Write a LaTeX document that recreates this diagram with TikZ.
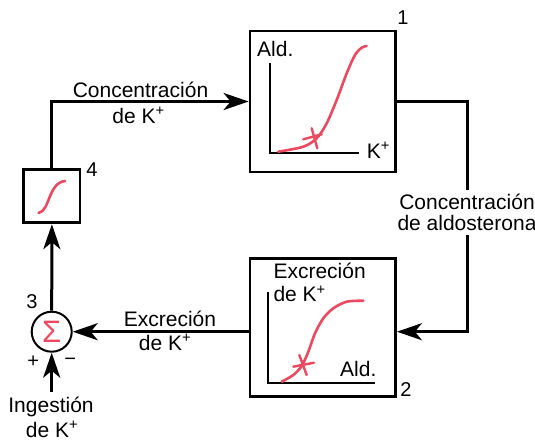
\documentclass[tikz,border=0pt]{standalone}
\usepackage{fontspec}
\setmainfont{Liberation Sans}
\usetikzlibrary{arrows.meta}
\definecolor{cred}{RGB}{236,72,95}
\begin{document}
\begin{tikzpicture}[x=1pt,y=-1pt,
  lbl/.style={font=\fontsize{21}{24}\selectfont, inner sep=0pt, anchor=base},
  lblw/.style={lbl, anchor=base west},
  num/.style={font=\fontsize{20}{22}\selectfont, inner sep=0pt},
  sgn/.style={font=\fontsize{20}{22}\selectfont, inner sep=0pt},
  blk/.style={draw, line width=2.8pt, inner sep=0pt},
  conn/.style={line width=3pt},
  arr/.style={conn, -{Stealth[length=25pt,width=17pt,inset=7pt]}},
  axis/.style={line width=2pt},
  crv/.style={draw=cred, line width=2.6pt, line cap=round},
  xm/.style={draw=cred, line width=2.4pt, line cap=round},
]
\useasboundingbox (0,0) rectangle (535,440);

% blocks
\node[blk, minimum width=145.5pt, minimum height=141pt] (b1) at (322.75,101.5) {};
\node[blk, minimum width=145.5pt, minimum height=137.6pt] (b2) at (322.75,327.5) {};
\node[blk, minimum width=56.2pt, minimum height=53.1pt] (b4) at (51.9,196.25) {};
\node[draw, circle, line width=2pt, minimum size=40pt, inner sep=0pt, text=cred,
      font=\fontsize{31}{32}\selectfont] (sum) at (51.7,331.7) {Σ};

% numbers
\node[num] (n1) at (403,18) {1};
\node[num] (n2) at (406,390) {2};
\node[num] (n3) at (32,302) {3};
\node[num] (n4) at (92,170) {4};
\node[sgn] (plus) at (33.3,361.7) {+};
\node[sgn] (minus) at (70.3,361.7) {−};

% labels
\node[lbl] (t1a) at (140.5,97) {Concentración};
\node[lbl] (t1b) at (138.5,123) {de K\textsuperscript{+}};
\node[font=\fontsize{21}{21.7}\selectfont, align=center, inner xsep=0pt, inner ysep=3.5pt,
      anchor=north] (t2) at (467,190) {Concentración\\de aldosterona};
\node[lbl] (t3a) at (170,326.7) {Excreción};
\node[lbl] (t3b) at (165,350) {de K\textsuperscript{+}};
\node[lbl, inner ysep=4pt] (ing1) at (51,412) {Ingestión};
\node[lbl] (ing2) at (52,437) {de K\textsuperscript{+}};

% plot 1
\node[lblw] (a1y) at (257,56.7) {Ald.};
\node[lblw] (a1x) at (366.7,158.3) {K\textsuperscript{+}};
\draw[axis] (270,63.3) |- (359.3,153);
\draw[crv] plot[smooth] coordinates {(278.3,151.7) (303.3,146.7) (316.7,138.3) (326.7,123.3) (336.7,100) (346.7,73.3) (355,55) (361.7,47.7) (366.7,46)};
\draw[xm] (303.3,139.3) -- (321.7,134.3) (311.7,128.3) -- (317.3,148.3);

% plot 2
\node[lblw] (a2y1) at (273.3,278.3) {Excreción};
\node[lblw] (a2y2) at (273.3,301.7) {de K\textsuperscript{+}};
\node[lblw] (a2x) at (340,376.7) {Ald.};
\draw[axis] (268.3,291.7) |- (375,383);
\draw[crv] plot[smooth] coordinates {(281.7,381.7) (293.3,375) (301.7,366) (308.3,351.7) (315,333.3) (323.3,318.3) (333.3,308.3) (346.7,301.7) (363.3,300.7)};
\draw[xm] (293.3,366.7) -- (314,362.7) (299.3,355) -- (306.7,375);

% plot 4
\draw[crv] (38.5,213) .. controls (50,211) and (48,183) .. (65,181);

% connectors
\draw[arr] (b4.north) |- (b1.west);
\draw[conn] (b1.east) -| (t2.north);
\draw[arr] (t2.south) |- (b2.east |- sum.east);
\draw[arr] (b2.west |- sum.east) -- (sum.east);
\draw[arr] (sum.north) -- (b4.south);
\draw[arr] (sum.south |- ing1.north) -- (sum.south);
\end{tikzpicture}
\end{document}
